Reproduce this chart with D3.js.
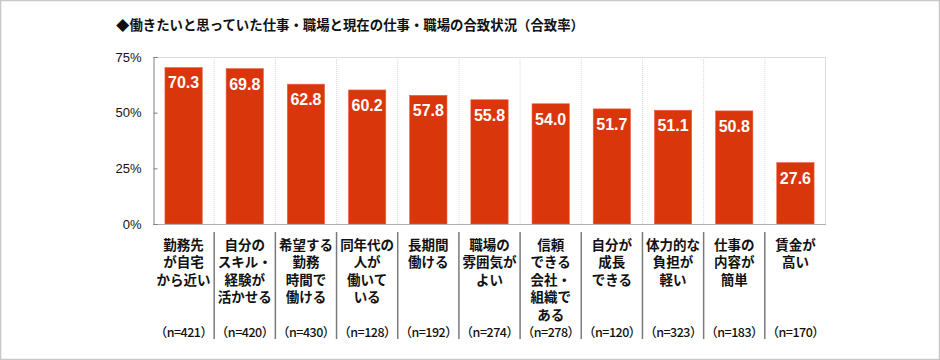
<!DOCTYPE html>
<html><head><meta charset="utf-8">
<script src="https://cdn.jsdelivr.net/npm/d3@7"></script>
<style>html,body{margin:0;padding:0;background:#fff;}svg{display:block;}</style>
</head><body>
<script>
const title = "◆働きたいと思っていた仕事・職場と現在の仕事・職場の合致状況（合致率）";
const categories = [
  ["勤務先","が自宅","から近い"],
  ["自分の","スキル・","経験が","活かせる"],
  ["希望する","勤務","時間で","働ける"],
  ["同年代の","人が","働いて","いる"],
  ["長期間","働ける"],
  ["職場の","雰囲気が","よい"],
  ["信頼","できる","会社・","組織で","ある"],
  ["自分が","成長","できる"],
  ["体力的な","負担が","軽い"],
  ["仕事の","内容が","簡単"],
  ["賃金が","高い"]
];
const values = [70.3, 69.8, 62.8, 60.2, 57.8, 55.8, 54.0, 51.7, 51.1, 50.8, 27.6];
const nCounts = [421, 420, 430, 128, 192, 274, 278, 120, 323, 183, 170];
const yTicks = [0, 25, 50, 75];

(function(){
const W = 940, H = 360;
const svg = d3.select("body").append("svg").attr("width", W).attr("height", H);
svg.append("rect").attr("x",0.5).attr("y",0.5).attr("width",W-1).attr("height",H-1)
  .attr("fill","#fff").attr("stroke","#c8c8c8").attr("stroke-width",1.5);

const pL = 153, pR = 826, pT = 57, pB = 224;
const ids = categories.map((c,i)=>i);
const x = d3.scaleBand().domain(ids).range([pL,pR]).paddingInner(0.39).paddingOuter(0.195);
const y = d3.scaleLinear().domain([0,75]).range([pB,pT]);
const step = x.step();

svg.append("text").attr("x",116).attr("y",30).text(title)
  .attr("font-family","'Noto Sans CJK JP'").attr("font-weight","bold").attr("font-size",13.4)
  .attr("fill","#111");

const bounds = ids.slice(1).map(i => x(i) - x.paddingInner()*step/2);
svg.append("g").selectAll("line").data(bounds).join("line")
  .attr("x1",d=>d).attr("x2",d=>d).attr("y1",pT).attr("y2",pB)
  .attr("stroke","#d8d8d8").attr("stroke-dasharray","1,1");
svg.append("line").attr("x1",pL).attr("x2",pR).attr("y1",pT+0.5).attr("y2",pT+0.5).attr("stroke","#dcdcdc");
svg.append("line").attr("x1",pR-0.5).attr("x2",pR-0.5).attr("y1",pT).attr("y2",pB).attr("stroke","#dcdcdc");

svg.append("g").selectAll("rect").data(values).join("rect")
  .attr("x",(d,i)=>x(i)).attr("width",x.bandwidth())
  .attr("y",d=>y(d)).attr("height",d=>pB-y(d))
  .attr("fill","#da360b").attr("stroke","#e8664a").attr("stroke-width",0.6);
svg.append("g").selectAll("text").data(values).join("text")
  .attr("x",(d,i)=>x(i)+x.bandwidth()/2).attr("y",d=>y(d)+21)
  .attr("text-anchor","middle").attr("fill","#fff")
  .attr("font-family","'Liberation Sans',Arial").attr("font-weight","bold").attr("font-size",16)
  .text(d=>d.toFixed(1));

svg.append("line").attr("x1",pL).attr("x2",pR).attr("y1",pB+0.5).attr("y2",pB+0.5).attr("stroke","#b0b0b0");

const yAxis = d3.axisLeft(y).tickValues(yTicks).tickSize(-4).tickPadding(12).tickFormat(d=>d+"%");
const ga = svg.append("g").attr("transform",`translate(${pL+0.5},0)`).call(yAxis);
ga.select(".domain").attr("stroke","#808080");
ga.selectAll(".tick line").attr("stroke","#808080");
ga.selectAll(".tick text").attr("font-family","'Liberation Sans',Arial").attr("font-size",13).attr("fill","#111");

svg.append("g").selectAll("line").data(bounds).join("line")
  .attr("x1",d=>d).attr("x2",d=>d).attr("y1",232).attr("y2",339)
  .attr("stroke","#7a7a7a").attr("stroke-width",1.5);

const lg = svg.append("g");
categories.forEach((lines,i)=>{
  const cx = x(i)+x.bandwidth()/2;
  lines.forEach((s,k)=>{
    lg.append("text").attr("x",cx).attr("y",250+k*17.4).attr("text-anchor","middle")
      .attr("font-family","'Noto Sans CJK JP'").attr("font-weight","bold").attr("font-size",13.5)
      .attr("fill","#111").text(s);
  });
  lg.append("text").attr("x",cx).attr("y",337).attr("text-anchor","middle")
    .attr("font-family","'Noto Sans CJK JP'").attr("font-weight",500).attr("font-size",12.5)
    .attr("letter-spacing",-0.5).attr("fill","#111")
    .text("（n="+nCounts[i]+"）");
});
})();
</script>
</body></html>
